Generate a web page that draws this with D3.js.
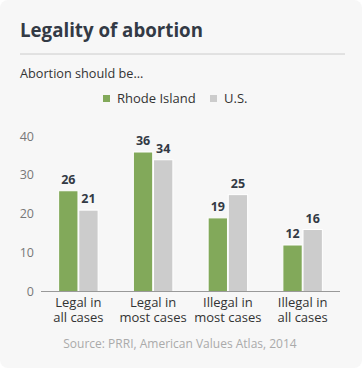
<!DOCTYPE html>
<html>
<head>
<meta charset="utf-8">
<script src="https://cdn.jsdelivr.net/npm/d3@7"></script>
<style>
  body { margin: 0; background: #fff; font-family: "Open Sans", sans-serif; }
</style>
</head>
<body>
<div id="chart"></div>
<script>
// Chart data
const categories = [["Legal in", "all cases"], ["Legal in", "most cases"], ["Illegal in", "most cases"], ["Illegal in", "all cases"]];
const seriesNames = ["Rhode Island", "U.S."];
const rhodeIsland = [26, 36, 19, 12];
const usValues = [21, 34, 25, 16];
const yTicks = [0, 10, 20, 30, 40];
const colors = ["#82a95a", "#cccccc"];

const width = 363, height = 369;

const svg = d3.select("#chart")
  .append("svg")
  .attr("width", width)
  .attr("height", height);

// Card background
svg.append("rect")
  .attr("x", 0).attr("y", 0)
  .attr("width", width - 1).attr("height", height - 1)
  .attr("rx", 8)
  .attr("fill", "#f7f7f7");

// Title
svg.append("text")
  .attr("x", 20).attr("y", 37)
  .attr("font-size", 18.7).attr("font-weight", "bold")
  .attr("fill", "#333a45")
  .text("Legality of abortion");

svg.append("line")
  .attr("x1", 20).attr("x2", 345)
  .attr("y1", 54).attr("y2", 54)
  .attr("stroke", "#cccccc").attr("stroke-width", 1);

svg.append("text")
  .attr("x", 20).attr("y", 78)
  .attr("font-size", 12.7)
  .attr("fill", "#333")
  .text("Abortion should be...");

// Legend
const legendX = [103, 210];
const legend = svg.append("g");
seriesNames.forEach((name, i) => {
  legend.append("rect")
    .attr("x", legendX[i]).attr("y", 95)
    .attr("width", 7).attr("height", 7)
    .attr("fill", colors[i]);
  legend.append("text")
    .attr("x", legendX[i] + 14).attr("y", 103)
    .attr("font-size", 13)
    .attr("fill", "#333")
    .text(name);
});

// Scales
const x0 = d3.scaleBand()
  .domain(d3.range(categories.length))
  .range([41, 340])
  .paddingInner(0.45)
  .paddingOuter(0.225);

const x1 = d3.scaleBand()
  .domain(d3.range(seriesNames.length))
  .range([0, x0.bandwidth()])
  .padding(0.04);

const y = d3.scaleLinear()
  .domain([0, 40])
  .range([291.5, 136.5]);

// Y axis labels
svg.append("g")
  .selectAll("text")
  .data(yTicks)
  .join("text")
  .attr("x", 34)
  .attr("y", d => y(d) + 4)
  .attr("text-anchor", "end")
  .attr("font-size", 12.5)
  .attr("fill", "#777")
  .text(d => d);

// Bars
const rows = categories.map((c, i) => [rhodeIsland[i], usValues[i]]);
const groups = svg.append("g")
  .selectAll("g")
  .data(rows)
  .join("g")
  .attr("transform", (d, i) => `translate(${x0(i)},0)`);

groups.selectAll("rect")
  .data(d => d.map((v, s) => ({ v, s })))
  .join("rect")
  .attr("x", d => x1(d.s))
  .attr("y", d => y(d.v))
  .attr("width", x1.bandwidth())
  .attr("height", d => y(0) - y(d.v))
  .attr("fill", d => colors[d.s])
  .attr("stroke", "#fff")
  .attr("stroke-width", 1);

// Value labels
groups.selectAll("text")
  .data(d => d.map((v, s) => ({ v, s })))
  .join("text")
  .attr("x", d => x1(d.s) + x1.bandwidth() / 2)
  .attr("y", d => y(d.v) - 7)
  .attr("text-anchor", "middle")
  .attr("font-size", 12.5)
  .attr("font-weight", "bold")
  .attr("fill", "#333a45")
  .text(d => d.v);

// Baseline
svg.append("line")
  .attr("x1", 41).attr("x2", 340)
  .attr("y1", y(0)).attr("y2", y(0))
  .attr("stroke", "#999").attr("stroke-width", 1);

// X labels
const xl = svg.append("g")
  .selectAll("text")
  .data(categories)
  .join("text")
  .attr("x", (d, i) => x0(i) + x0.bandwidth() / 2)
  .attr("y", 307)
  .attr("text-anchor", "middle")
  .attr("font-size", 13)
  .attr("fill", "#333");
xl.append("tspan")
  .attr("x", (d, i) => x0(i) + x0.bandwidth() / 2)
  .text(d => d[0]);
xl.append("tspan")
  .attr("x", (d, i) => x0(i) + x0.bandwidth() / 2)
  .attr("dy", 15)
  .text(d => d[1]);

// Source
svg.append("text")
  .attr("x", 180).attr("y", 348)
  .attr("text-anchor", "middle")
  .attr("font-size", 12)
  .attr("fill", "#aaa")
  .text("Source: PRRI, American Values Atlas, 2014");
</script>
</body>
</html>
